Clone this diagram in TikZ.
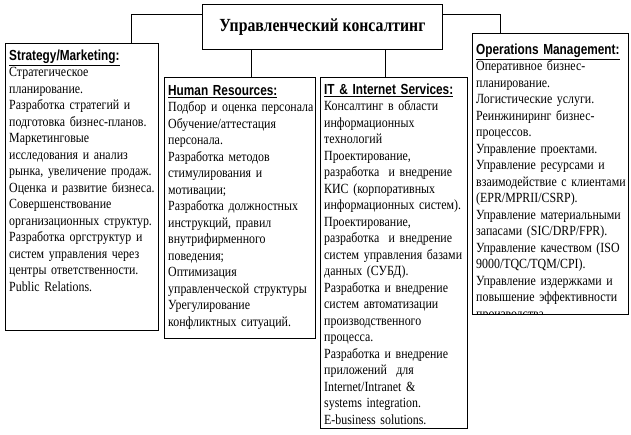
\documentclass[tikz,border=0pt]{standalone}
\usepackage{fontspec}
\setmainfont{Liberation Serif}[FakeStretch=0.85]
\newfontfamily\hdfont{Liberation Sans}[FakeStretch=0.81]
\begin{document}
\begin{tikzpicture}[x=1pt,y=-1pt,
  box/.style={draw=black,line width=0.9pt,fill=white,inner sep=0pt,anchor=north west},
  txt/.style={anchor=north west,inner sep=0pt,align=left,font=\fontsize{14}{16.5}\selectfont},
  conn/.style={draw=black,line width=0.9pt}]
\useasboundingbox (0,0) rectangle (631,435);
\fill[white] (0,0) rectangle (631,435);
\newcommand\hd[1]{\underline{\fontsize{14.6}{16.5}\hdfont\bfseries #1}}

% boxes
\node[box,minimum width=240pt,minimum height=45pt] (title) at (202,4) {};
\node[anchor=center,inner sep=0pt,font=\fontsize{18.5}{20}\selectfont\bfseries] (titleT) at (title.center) {Управленческий консалтинг};

\node[box,minimum width=153pt,minimum height=287pt] (strat) at (5,43) {};
\node[box,minimum width=151pt,minimum height=261pt] (hr) at (164,77) {};
\node[box,minimum width=147pt,minimum height=351pt] (it) at (320,77) {};
\node[box,minimum width=156pt,minimum height=281pt] (ops) at (472,33) {};

% connectors
\draw[conn] ([yshift=-10pt]title.north west) -| ([xshift=-27pt]strat.north east);
\draw[conn] ([yshift=-10pt]title.north east) -| ([xshift=28pt]ops.north west);
\draw[conn] ([xshift=87pt]hr.north west) -- ([xshift=87pt]hr.north west |- title.south);
\draw[conn] ([xshift=65pt]it.north west) -- ([xshift=65pt]it.north west |- title.south);

% texts
\node[txt,text width=150pt] (stratT) at ([xshift=4pt,yshift=-5.5pt]strat.north west) {\strut\hd{Strategy/Marketing:}\\
Стратегическое\\
планирование.\\
Разработка стратегий и\\
подготовка бизнес-планов.\\
Маркетинговые\\
исследования и анализ\\
рынка, увеличение продаж.\\
Оценка и развитие бизнеса.\\
Совершенствование\\
организационных структур.\\
Разработка оргструктур и\\
систем управления через\\
центры ответственности.\\
Public Relations.};

\node[txt,text width=148pt] (hrT) at ([xshift=4pt,yshift=-6.5pt]hr.north west) {\strut\hd{Human Resources:}\\
Подбор и оценка персонала\\
Обучение/аттестация\\
персонала.\\
Разработка методов\\
стимулирования и\\
мотивации;\\
Разработка должностных\\
инструкций, правил\\
внутрифирменного\\
поведения;\\
Оптимизация\\
управленческой структуры\\
Урегулирование\\
конфликтных ситуаций.};

\node[txt,text width=144pt] (itT) at ([xshift=4pt,yshift=-5.5pt]it.north west) {\strut\hd{IT \& Internet Services:}\\
Консалтинг в области\\
информационных\\
технологий\\
Проектирование,\\
разработка\ \ и внедрение\\
КИС (корпоративных\\
информационных систем).\\
Проектирование,\\
разработка\ \ и внедрение\\
систем управления базами\\
данных (СУБД).\\
Разработка и внедрение\\
систем автоматизации\\
производственного\\
процесса.\\
Разработка и внедрение\\
приложений\ \ для\\
Internet/Intranet \&\\
systems integration.\\
E-business solutions.};

\begin{scope}
\clip (ops.north west) rectangle ([yshift=0.5pt]ops.south east);
\node[txt,text width=153pt] (opsT) at ([xshift=4pt,yshift=-9.5pt]ops.north west) {\strut\hd{Operations Management:}\\
Оперативное бизнес-\\
планирование.\\
Логистические услуги.\\
Реинжиниринг бизнес-\\
процессов.\\
Управление проектами.\\
Управление ресурсами и\\
взаимодействие с клиентами\\
(EPR/MPRII/CSRP).\\
Управление материальными\\
запасами (SIC/DRP/FPR).\\
Управление качеством (ISO\\
9000/TQC/TQM/CPI).\\
Управление издержками и\\
повышение эффективности\\
производства};
\end{scope}
\end{tikzpicture}
\end{document}
